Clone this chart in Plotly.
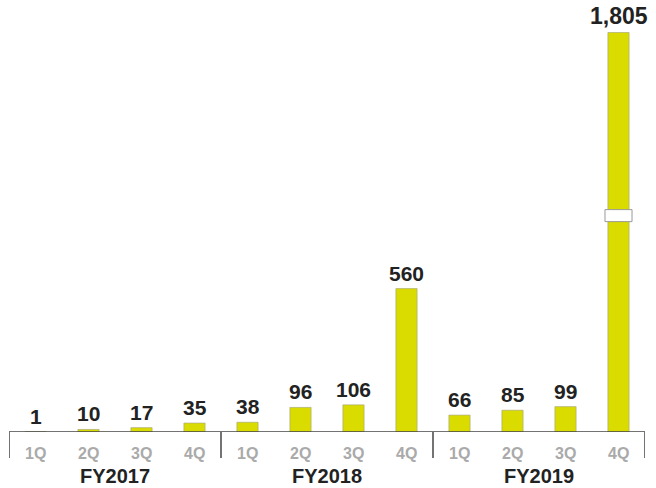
import plotly.graph_objects as go

# Quarterly values by fiscal year
years = ["FY2017", "FY2018", "FY2019"]
quarters = ["1Q", "2Q", "3Q", "4Q"]
values = [1, 10, 17, 35, 38, 96, 106, 560, 66, 85, 99, 1805]

# Broken value axis: the span between these two values is cut out
BREAK_LOW = 845
BREAK_HIGH = 1090
GAP = BREAK_HIGH - BREAK_LOW


def to_display(v):
    return v if v <= BREAK_LOW else v - GAP


x = list(range(len(values)))
shown = [to_display(v) for v in values]
labels = [f"{v:,}" for v in values]

BAR = "#dadc00"
FONT = "Liberation Sans, Arial, Helvetica, sans-serif"

fig = go.Figure(
    go.Bar(
        x=x,
        y=shown,
        width=0.4,
        marker=dict(color=BAR, line=dict(color="rgba(160,160,120,0.6)", width=1)),
        hoverinfo="skip",
    )
)

plot_h = 422
y_top = 1648
px_per_unit = plot_h / y_top

shapes = [
    # baseline
    dict(type="line", xref="x", yref="y", x0=-0.5, x1=len(values) - 0.5, y0=0, y1=0,
         line=dict(color="#444444", width=1.5)),
]
# group dividers dropping below the baseline
for b in [-0.5, 3.5, 7.5, 11.5]:
    shapes.append(dict(type="line", xref="x", yref="paper", x0=b, x1=b, y0=0, y1=-26 / plot_h,
                       line=dict(color="#444444", width=1.5)))

# break marker on bars that cross the cut
half_h = 6 / px_per_unit
for xi, v in zip(x, values):
    if v > BREAK_HIGH:
        shapes.append(dict(type="rect", xref="x", yref="y", x0=xi - 0.255, x1=xi + 0.255,
                           y0=BREAK_LOW - half_h, y1=BREAK_LOW + half_h,
                           fillcolor="white", line=dict(color="#999999", width=1)))

annotations = []
# value labels above each bar
for xi, s, lab, v in zip(x, shown, labels, values):
    annotations.append(dict(x=xi, y=s, xref="x", yref="y", text=lab, showarrow=False,
                            yanchor="bottom", yshift=2,
                            font=dict(family=FONT, size=23 if v > BREAK_HIGH else 21,
                                      color="#222222", weight="bold")))
for i, xi in enumerate(x):
    annotations.append(dict(x=xi, y=0, xref="x", yref="paper", text=quarters[i % 4],
                            showarrow=False, yanchor="middle", yshift=-21,
                            font=dict(family=FONT, size=16, color="#aaaaaa", weight="bold")))
for g, name in enumerate(years):
    annotations.append(dict(x=g * 4 + 1.5, y=0, xref="x", yref="paper", text=name,
                            showarrow=False, yanchor="middle", yshift=-44,
                            borderpad=0,
                            font=dict(family=FONT, size=20, color="#222222", weight="bold")))

fig.update_layout(
    width=656,
    height=488,
    margin=dict(l=9, r=11, t=10, b=56),
    paper_bgcolor="white",
    plot_bgcolor="white",
    showlegend=False,
    xaxis=dict(range=[-0.5, len(values) - 0.5], visible=False, fixedrange=True),
    yaxis=dict(range=[0, y_top], visible=False, fixedrange=True),
    shapes=shapes,
    annotations=annotations,
    bargap=0.6,
)

fig.write_html("out.html")
